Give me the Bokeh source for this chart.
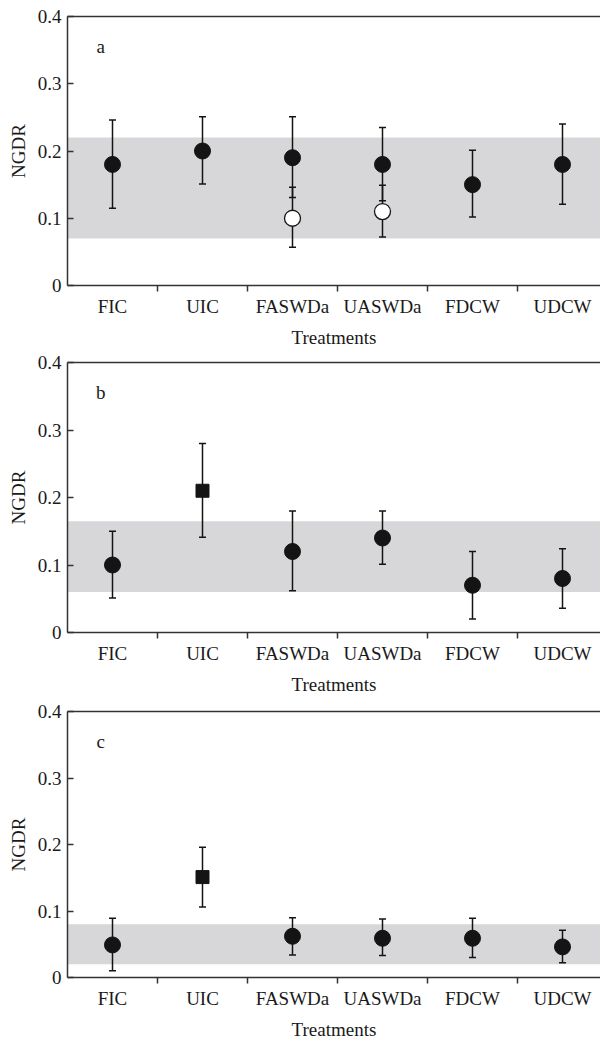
from bokeh.plotting import figure
from bokeh.models import (ColumnDataSource, Whisker, TeeHead, BoxAnnotation,
                          FixedTicker, LinearAxis, Label, Range1d)
from bokeh.layouts import column
from bokeh.embed import file_html
from bokeh.resources import INLINE

# ---------------- data ----------------
categories = ["FIC", "UIC", "FASWDa", "UASWDa", "FDCW", "UDCW"]
y_ticks = [0, 0.1, 0.2, 0.3, 0.4]
y_tick_labels = ["0", "0.1", "0.2", "0.3", "0.4"]
x_title = "Treatments"
y_title = "NGDR"

# panel a
a_mean = [0.18, 0.20, 0.19, 0.18, 0.15, 0.18]
a_upper = [0.246, 0.251, 0.251, 0.235, 0.201, 0.240]
a_lower = [0.115, 0.151, 0.131, 0.126, 0.102, 0.121]
a_open_mean = [None, None, 0.100, 0.110, None, None]
a_open_upper = [None, None, 0.146, 0.149, None, None]
a_open_lower = [None, None, 0.057, 0.072, None, None]
a_band = [0.07, 0.22]
a_squares = []

# panel b
b_mean = [0.10, 0.21, 0.12, 0.14, 0.07, 0.08]
b_upper = [0.150, 0.280, 0.180, 0.180, 0.120, 0.124]
b_lower = [0.051, 0.141, 0.062, 0.101, 0.020, 0.036]
b_band = [0.06, 0.165]
b_squares = ["UIC"]

# panel c
c_mean = [0.049, 0.151, 0.062, 0.059, 0.059, 0.046]
c_upper = [0.089, 0.196, 0.090, 0.088, 0.089, 0.071]
c_lower = [0.010, 0.106, 0.034, 0.033, 0.030, 0.022]
c_band = [0.02, 0.08]
c_squares = ["UIC"]

# ---------------- style ----------------
FONT = "Liberation Serif"
FS = "19px"
TXT = "#1a1a1a"
AX = "#333333"
MK = "#141414"
BAND = "#d7d6d9"
W = 600
LEFT = 67
SPACING = 90.0


def make_panel(letter, mean, upper, lower, band, squares, top_b, frame_h, bottom,
               open_mean=None, open_upper=None, open_lower=None):
    p = figure(width=W, height=top_b + frame_h + bottom, output_backend="svg",
               toolbar_location=None, min_border_left=LEFT, min_border_right=0,
               min_border_top=top_b, min_border_bottom=bottom,
               x_range=Range1d(0, (W - LEFT) / SPACING), y_range=Range1d(0, 0.4),
               background_fill_color="white", border_fill_color="white")
    p.outline_line_color = None
    p.xgrid.visible = False
    p.ygrid.visible = False

    p.add_layout(BoxAnnotation(bottom=band[0], top=band[1], fill_color=BAND,
                               fill_alpha=1, line_color=None, level="underlay"))

    xs = [i + 0.5 for i in range(len(categories))]
    src = ColumnDataSource(dict(x=xs, m=mean, up=upper, lo=lower))
    head = dict(size=7, line_width=1.5, line_color=MK)
    p.add_layout(Whisker(source=src, base="x", upper="up", lower="lo",
                         line_width=1.5, line_color=MK,
                         upper_head=TeeHead(**head), lower_head=TeeHead(**head)))
    if open_mean is not None:
        idx = [i for i, v in enumerate(open_mean) if v is not None]
        osrc = ColumnDataSource(dict(x=[xs[i] for i in idx],
                                     m=[open_mean[i] for i in idx],
                                     up=[open_upper[i] for i in idx],
                                     lo=[open_lower[i] for i in idx]))
        p.add_layout(Whisker(source=osrc, base="x", upper="up", lower="lo",
                             line_width=1.5, line_color=MK,
                             upper_head=TeeHead(**head), lower_head=TeeHead(**head)))

    ci = [i for i, c in enumerate(categories) if c not in squares]
    si = [i for i, c in enumerate(categories) if c in squares]
    p.scatter([xs[i] for i in ci], [mean[i] for i in ci], marker="circle",
              size=16, fill_color=MK, line_color=MK)
    if si:
        p.scatter([xs[i] for i in si], [mean[i] for i in si], marker="square",
                  size=13, fill_color=MK, line_color=MK)
    if open_mean is not None:
        p.scatter("x", "m", source=osrc, marker="circle", size=16,
                  fill_color="white", line_color=MK, line_width=1.3)

    # x axis
    xa = p.xaxis[0]
    xa.ticker = FixedTicker(ticks=xs, minor_ticks=[i + 1 for i in range(len(categories) - 1)])
    xa.major_label_overrides = {x: c for x, c in zip(xs, categories)}
    xa.major_tick_out = 0
    xa.major_tick_in = 0
    xa.minor_tick_out = 6
    xa.minor_tick_in = 0
    xa.minor_tick_line_color = AX
    xa.minor_tick_line_width = 1.5
    xa.major_label_standoff = 4
    xa.axis_label = x_title
    xa.axis_label_standoff = 7

    # y axis
    ya = p.yaxis[0]
    ya.ticker = FixedTicker(ticks=y_ticks, minor_ticks=[])
    ya.major_label_overrides = {t: l for t, l in zip(y_ticks, y_tick_labels)}
    ya.major_tick_out = 0
    ya.major_tick_in = 6
    ya.minor_tick_out = 0
    ya.minor_tick_in = 0
    ya.major_label_standoff = 6
    ya.axis_label = y_title
    ya.axis_label_standoff = 6

    for ax in (xa, ya):
        ax.axis_line_color = AX
        ax.axis_line_width = 1.5
        ax.major_tick_line_color = AX
        ax.major_tick_line_width = 1.5
        ax.major_label_text_font = FONT
        ax.major_label_text_font_size = FS
        ax.major_label_text_color = TXT
        ax.axis_label_text_font = FONT
        ax.axis_label_text_font_size = FS
        ax.axis_label_text_color = TXT
        ax.axis_label_text_font_style = "normal"

    top = LinearAxis(ticker=FixedTicker(ticks=[]), axis_line_color=AX,
                     axis_line_width=1.5, major_tick_out=0, major_tick_in=0,
                     minor_tick_out=0, minor_tick_in=0, major_label_standoff=0,
                     major_label_text_font_size="0px")
    p.add_layout(top, "above")

    p.add_layout(Label(x=0.37, y=0.355, text=letter, text_font=FONT,
                       text_font_size=FS, text_color=TXT, text_align="center",
                       text_baseline="middle"))
    return p


pa = make_panel("a", a_mean, a_upper, a_lower, a_band, a_squares, 16, 274, 60,
                a_open_mean, a_open_upper, a_open_lower)
pb = make_panel("b", b_mean, b_upper, b_lower, b_band, b_squares, 12, 275, 60)
pc = make_panel("c", c_mean, c_upper, c_lower, c_band, c_squares, 14, 275, 56)

layout = column(pa, pb, pc, spacing=0)
open("out.html", "w").write(file_html(layout, INLINE))
